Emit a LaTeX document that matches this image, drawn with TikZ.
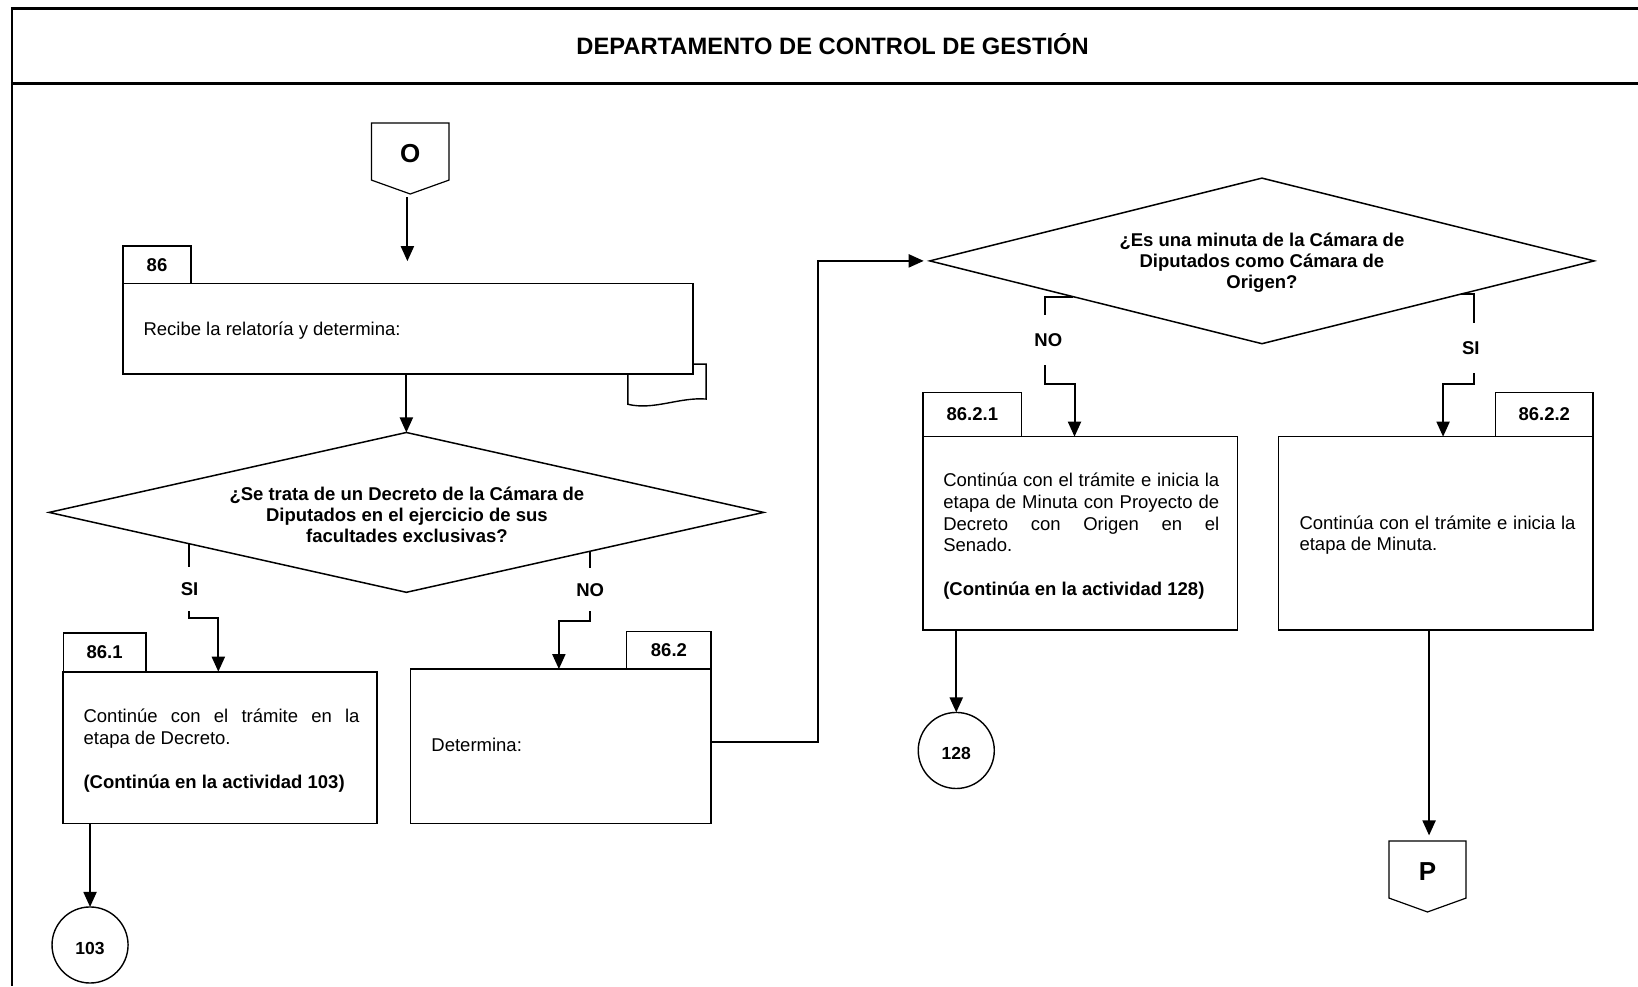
\documentclass[tikz,border=0pt]{standalone}
\usepackage{fontspec}
\setmainfont{Liberation Sans}[WordSpace={1,2,0}]
\usetikzlibrary{arrows.meta,shapes.geometric,fit,calc}
\newdimen\pxu
\pxu=1.0446pt
\hyphenpenalty=10000
\exhyphenpenalty=10000
\tolerance=10000
\begin{document}
\begin{tikzpicture}[x=1.0446pt,y=-1.0446pt,
  frameline/.style={line width=3pt},
  box/.style={draw,line width=1.6pt,fill=white,inner sep=0pt,outer sep=0pt},
  tab/.style={draw,line width=1.3pt,fill=white,inner sep=0pt,outer sep=0pt},
  tablab/.style={inner sep=0pt,font=\bfseries\fontsize{18.5}{21.7}\selectfont},
  dia/.style={draw,diamond,line width=1.5pt,fill=white,inner sep=0pt,outer sep=0pt},
  circ/.style={draw,circle,line width=1.4pt,fill=white,inner sep=0pt,outer sep=0pt,
    minimum size=72.8\pxu},
  offpage/.style={draw,line width=1.2pt,fill=white,line join=miter},
  doc/.style={draw,line width=1.4pt,fill=white},
  txt/.style={inner sep=0pt,outer sep=0pt,font=\fontsize{18.5}{21.7}\selectfont},
  qtxt/.style={inner sep=0pt,outer sep=0pt,font=\bfseries\fontsize{18.5}{21}\selectfont},
  lab/.style={fill=white,inner xsep=2pt,outer sep=0pt,
    font=\bfseries\fontsize{18.5}{21.7}\selectfont},
  conlab/.style={inner sep=0pt,font=\bfseries\fontsize{26}{30}\selectfont},
  circlab/.style={inner sep=0pt,font=\bfseries\fontsize{17.5}{20}\selectfont},
  arr/.style={line width=2pt,-{Triangle[length=15pt,width=13pt]}},
]
\useasboundingbox (0,0) rectangle (1568,944);

% frame and header
\draw[frameline] (10.4,8.6) -- (1568,8.6);
\draw[frameline] (10.4,79.8) -- (1568,79.8);
\draw[line width=1.7pt] (11.2,7.2) -- (11.2,944);
\node[font=\bfseries\fontsize{23.7}{28}\selectfont,anchor=base] (title) at (797,52.5)
  {DEPARTAMENTO DE CONTROL DE GESTIÓN};

% off-page connector O
\draw[offpage] (355.6,117.8) -- (429.8,117.8) -- (429.8,172.4) -- (392.7,185.7)
  -- (355.6,172.4) -- cycle;
\node[conlab,anchor=base] (O) at (392.7,155.6) {O};
\coordinate (Oout) at (390,188.6);
\coordinate (in86) at (390,250);
\draw[arr] (Oout) -- (in86);

% activity 86
\draw[doc] (601,348.5) -- (676,348.5) -- (676,382)
  .. controls (650,380) and (626,393) .. (601,387) -- cycle;
\node[tab,fit={(117.8,235.5) (182.8,271.3)}] (tab86) {};
\node[tablab] (n86) at (tab86.center) {86};
\node[box,fit={(117.8,271.3) (663.4,358)}] (b86) {};
\node[txt,anchor=base west] (t86) at (137.4,321) {Recibe la relatoría y determina:};

% decision 1
\node[dia,minimum width=684\pxu,minimum height=153\pxu] (d1) at (389,490.5) {};
\draw[arr] (b86.south -| d1.north) -- (d1.north);
\begin{scope}
  \clip (0,0) rectangle (1568,519.8);
  \node[qtxt,anchor=base] (q1) at (389.5,479) {\parbox[t]{500pt}{\centering
    ¿Se trata de un Decreto de la Cámara de\\Diputados en el ejercicio de sus\\facultades exclusivas?}};
\end{scope}

% activity 86.1
\node[tab,fit={(60.5,606) (139.8,643)}] (tab861) {};
\node[tablab] (n861) at (tab861.center) {86.1};
\node[box,fit={(60.5,643) (361,788.3)}] (b861) {};
\node[txt,anchor=base west] (t861) at (80,692) {\parbox[t]{276pt}{Continúe con el trámite en la\linebreak
  etapa de Decreto.\par\vspace{\baselineskip}\textbf{(Continúa en la actividad 103)}}};

% activity 86.2
\node[tab,fit={(600,604.7) (680.7,640.5)}] (tab862) {};
\node[tablab] (n862) at (tab862.center) {86.2};
\node[box,fit={(393,640.5) (680.7,788.3)}] (b862) {};
\node[txt,anchor=base west] (t862) at (413,719) {Determina:};

% branches of decision 1
\coordinate (d1si) at ($(d1.west)!0.392!(d1.south)$);
\coordinate (d1no) at ($(d1.east)!0.4854!(d1.south)$);
\draw[arr] (d1si) |- (209,592) -- (b861.north -| 209,0);
\draw[arr] (d1no) |- (535,594) -- (b862.north -| 535,0);
\node[lab,inner ysep=15pt] (si1) at (181.5,563.8) {SI};
\node[lab,inner ysep=15pt] (no1) at (565,564.5) {NO};

% connector to 103
\node[circ] (c103) at (86.2,904.6) {};
\node[circlab] (l103) at (86.2,907.6) {103};
\draw[arr] (b861.south -| c103.north) -- (c103.north);

% decision 2
\node[dia,minimum width=636\pxu,minimum height=158.5\pxu] (d2) at (1208,249.75) {};
\node[qtxt,anchor=base] (q2) at (1208,235.5) {\parbox[t]{500pt}{\centering
  ¿Es una minuta de la Cámara de\\Diputados como Cámara de\\Origen?}};
\draw[arr,shorten >=6pt] ($(b862.east)+(0,-4.4)$) -- ++(102.3,0) |- (d2.west);

% activity 86.2.1
\node[tab,fit={(883.6,375.5) (978,418)}] (tab8621) {};
\node[tablab] (n8621) at (tab8621.center) {86.2.1};
\node[box,fit={(883.6,418) (1184.6,603)}] (b8621) {};
\node[txt,anchor=base west] (t8621) at (903,466) {\parbox[t]{276pt}{Continúa con el trámite e inicia la\linebreak
  etapa de Minuta con Proyecto de\linebreak Decreto con Origen en el\linebreak Senado.\par
  \vspace{\baselineskip}\textbf{(Continúa en la actividad 128)}}};

% activity 86.2.2
\node[tab,fit={(1431.6,375.5) (1525,418)}] (tab8622) {};
\node[tablab] (n8622) at (tab8622.center) {86.2.2};
\node[box,fit={(1224,418) (1525,603)}] (b8622) {};
\node[txt,anchor=base west] (t8622) at (1244,506.5) {\parbox[t]{276pt}{Continúa con el trámite e inicia la\linebreak
  etapa de Minuta.}};

% branches of decision 2
\coordinate (d2no) at ($(d2.west)!0.431!(d2.south)$);
\coordinate (d2si) at ($(d2.south)!0.6!(d2.east)$);
\draw[arr] (d2no) -- (d2no -| 1000.8,0) |- (1028.6,368) -- (b8621.north -| 1028.6,0);
\draw[arr] (d2si) -- (d2si -| 1411,0) |- (1381.4,368) -- (b8622.north -| 1381.4,0);
\node[lab,inner ysep=18pt] (no2) at (1003.5,325.5) {NO};
\node[lab,inner ysep=18.5pt] (si2) at (1408,333) {SI};

% connector to 128
\node[circ] (c128) at (915.4,718.4) {};
\node[circlab] (l128) at (915.4,721) {128};
\draw[arr] (b8621.south -| c128.north) -- (c128.north);

% off-page connector P
\draw[offpage] (1329.7,805) -- (1403.4,805) -- (1403.4,859.7) -- (1366.5,873)
  -- (1329.7,859.7) -- cycle;
\node[conlab,anchor=base] (P) at (1366.5,843) {P};
\coordinate (Ptop) at (1368,805);
\draw[arr,shorten >=5.5pt] (b8622.south -| Ptop) -- (Ptop);
\end{tikzpicture}
\end{document}
